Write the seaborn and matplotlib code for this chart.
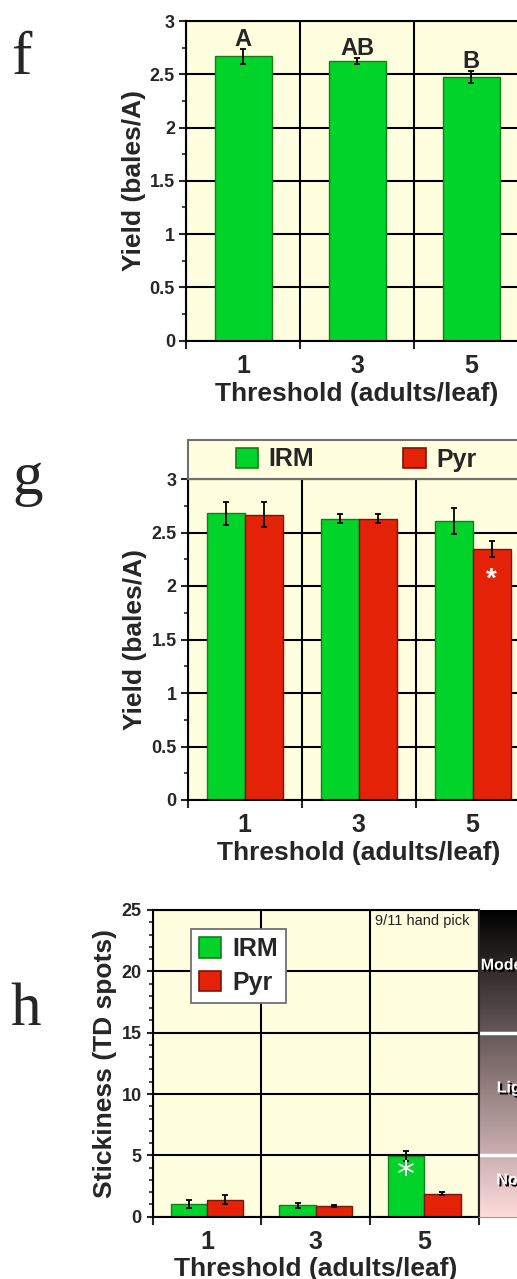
import numpy as np
import pandas as pd
import matplotlib
matplotlib.use("Agg")
import matplotlib.pyplot as plt
import matplotlib.patheffects as pe
from matplotlib import font_manager
from matplotlib.patches import Rectangle
from matplotlib.colors import LinearSegmentedColormap
from matplotlib.ticker import MultipleLocator, FixedLocator, FuncFormatter
import seaborn as sns

# data
thresholds = ["1", "3", "5"]
treatments = ["IRM", "Pyr"]

f_yield = [2.67, 2.627, 2.477]
f_err = [0.07, 0.03, 0.055]
f_letters = ["A", "AB", "B"]

g_irm = [2.68, 2.63, 2.61]
g_irm_err = [0.107, 0.04, 0.12]
g_pyr = [2.668, 2.63, 2.35]
g_pyr_err = [0.115, 0.04, 0.075]

h_irm = [1.01, 0.93, 4.95]
h_irm_err = [0.33, 0.22, 0.38]
h_pyr = [1.39, 0.85, 1.88]
h_pyr_err = [0.37, 0.10, 0.11]

sticky_bounds = [0, 5, 15, 25]
sticky_labels = ["None", "Light", "Moderate"]

GREEN = "#00D42A"
RED = "#E42208"
GREEN_EDGE = "#1B7A1B"
RED_EDGE = "#7A1508"
CREAM = "#FFFFE0"
palette = {"IRM": GREEN, "Pyr": RED}
edges = [GREEN_EDGE, RED_EDGE]

sns.set_style("ticks")
plt.rcParams["font.family"] = ["Liberation Sans", "DejaVu Sans"]
plt.rcParams["font.weight"] = "bold"
plt.rcParams["axes.labelweight"] = "bold"

W, H = 517, 1279
fig = plt.figure(figsize=(W / 100, H / 100), dpi=100)


def add_ax(l, t, r, b):
    return fig.add_axes([l / W, 1 - b / H, (r - l) / W, (b - t) / H])


def style(ax, ymax, major, minor, ylab_x, xlab_y, ylabel, tlen, tpad):
    ax.set_facecolor(CREAM)
    ax.set_xlim(-0.5, 2.5)
    ax.set_ylim(0, ymax)
    ax.yaxis.set_major_locator(MultipleLocator(major))
    ax.yaxis.set_minor_locator(MultipleLocator(minor))
    ax.yaxis.set_major_formatter(FuncFormatter(lambda v, p: f"{v:g}"))
    ax.xaxis.set_minor_locator(FixedLocator([-0.5, 0.5, 1.5, 2.5]))
    ax.tick_params(axis="x", which="major", length=0, pad=9.5, labelsize=18)
    ax.tick_params(axis="x", which="minor", direction="out", length=5.5, width=1.5)
    ax.tick_params(axis="y", which="major", direction="out", length=tlen, width=1.5,
                   labelsize=13, pad=tpad)
    ax.tick_params(axis="y", which="minor", direction="out", length=3, width=1.2)
    ax.grid(False)
    ax.yaxis.grid(True, which="major", color="black", lw=1.5)
    ax.xaxis.grid(True, which="minor", color="black", lw=1.5)
    ax.set_axisbelow(True)
    for s in ax.spines.values():
        s.set_linewidth(1.5)
        s.set_color("black")
    ax.set_xlabel("Threshold (adults/leaf)", fontsize=19)
    ax.set_ylabel(ylabel, fontsize=19)
    ax.xaxis.set_label_coords(0.5, xlab_y)
    ax.yaxis.set_label_coords(ylab_x, 0.5)


def add_errorbars(ax, err_lists):
    for cont, errs, ec in zip(list(ax.containers), err_lists, edges):
        for p in cont:
            p.set_edgecolor(ec)
            p.set_linewidth(1.0)
        xs = [p.get_x() + p.get_width() / 2 for p in cont]
        ax.errorbar(xs, cont.datavalues, yerr=errs, fmt="none", ecolor="black",
                    elinewidth=1.3, capsize=2.5, capthick=1.3, zorder=3)


def long_df(irm, pyr):
    return pd.DataFrame({
        "threshold": thresholds * 2,
        "value": list(irm) + list(pyr),
        "treatment": ["IRM"] * 3 + ["Pyr"] * 3,
    })


# ---- panel f
ax_f = add_ax(186, 21, 528, 340.7)
df_f = pd.DataFrame({"threshold": thresholds, "value": f_yield})
sns.barplot(data=df_f, x="threshold", y="value", color=GREEN, saturation=1,
            width=0.5, errorbar=None, ax=ax_f)
add_errorbars(ax_f, [f_err])
style(ax_f, 3, 0.5, 0.25, -0.118, -0.128, "Yield (bales/A)", 5, 3)
for i, (m, e, lab) in enumerate(zip(f_yield, f_err, f_letters)):
    ax_f.text(i, m + e + 0.025, lab, ha="center", va="baseline", fontsize=17)

# ---- panel g
ax_g = add_ax(187.7, 479, 529.7, 800)
sns.barplot(data=long_df(g_irm, g_pyr), x="threshold", y="value", hue="treatment",
            palette=palette, saturation=1, width=0.667, errorbar=None, ax=ax_g)
add_errorbars(ax_g, [g_irm_err, g_pyr_err])
style(ax_g, 3, 0.5, 0.25, -0.12, -0.127, "Yield (bales/A)", 5, 3)
ax_g.spines["top"].set_color("#707070")
band_h = 39 / 321
ax_g.add_patch(Rectangle((0, 1), 1, band_h, transform=ax_g.transAxes, clip_on=False,
                         facecolor=CREAM, edgecolor="#707070", lw=1.5, zorder=0))
old = ax_g.get_legend()
handles = old.legend_handles
labels = [t.get_text() for t in old.get_texts()]
old.remove()
for hd, ec in zip(handles, edges):
    hd.set_edgecolor(ec)
    hd.set_linewidth(1.2)
ax_g.legend(handles, labels, loc="center left", bbox_to_anchor=(48 / 342, 1 + band_h / 2),
            frameon=False, ncol=2, fontsize=18, handlelength=0.9, handleheight=0.9,
            handletextpad=0.42, columnspacing=3.55, borderpad=0, borderaxespad=0)
pyr5 = ax_g.containers[1][2]
ax_g.annotate("*", xy=(pyr5.get_x() + pyr5.get_width() / 2, 2.11), xytext=(0, -4),
              textcoords="offset points", ha="center", va="center", color="white",
              fontsize=20)

# ---- panel h
ax_h = add_ax(152.7, 910, 478.7, 1216.7)
sns.barplot(data=long_df(h_irm, h_pyr), x="threshold", y="value", hue="treatment",
            palette=palette, saturation=1, width=0.667, errorbar=None, ax=ax_h)
add_errorbars(ax_h, [h_irm_err, h_pyr_err])
style(ax_h, 25, 5, 1, -0.1086, -0.132, "Stickiness (TD spots)", 4.5, 3.5)
old = ax_h.get_legend()
handles = old.legend_handles
labels = [t.get_text() for t in old.get_texts()]
old.remove()
for hd, ec in zip(handles, edges):
    hd.set_edgecolor(ec)
    hd.set_linewidth(1.2)
leg = ax_h.legend(handles, labels, loc="upper left",
                  bbox_to_anchor=((191 - 152.7) / 326, 1 - 19.3 / 306.7), borderaxespad=0,
                  fontsize=18, frameon=True, fancybox=False, edgecolor="#707070",
                  facecolor="white", framealpha=1, handlelength=0.88, handleheight=0.88,
                  handletextpad=0.45, borderpad=0.32, labelspacing=0.38)
leg.get_frame().set_linewidth(1.3)
irm5 = ax_h.containers[0][2]
ax_h.annotate("*", xy=(irm5.get_x() + irm5.get_width() / 2, 3.86), xytext=(0, -5),
              textcoords="offset points", ha="center", va="center", color="white",
              fontsize=26, fontweight="normal", family="DejaVu Sans")
ax_h.text((375 - 152.7) / 326, 1 - 4 / 306.7, "9/11 hand pick", transform=ax_h.transAxes,
          ha="left", va="top", fontsize=10.5, fontweight="normal", color="#222222")

# ---- stickiness scale next to h
ax_s = add_ax(478.7, 910, 554, 1216.7)
cmap = LinearSegmentedColormap.from_list("sticky", ["#FFDCDC", "#000000"])
ax_s.imshow(np.linspace(0, 1, 256).reshape(-1, 1), aspect="auto", cmap=cmap,
            origin="lower", extent=[0, 1, 0, 25])
ax_s.set_xlim(0, 1)
ax_s.set_ylim(0, 25)
ax_s.set_xticks([])
ax_s.set_yticks([])
for side in ["top", "right"]:
    ax_s.spines[side].set_visible(False)
ax_s.spines["left"].set_linewidth(1.5)
ax_s.spines["bottom"].set_color("#999999")
ax_s.spines["bottom"].set_linewidth(0.8)
for b in sticky_bounds[1:-1]:
    ax_s.axhline(b, color="white", lw=2.5)
names = {f.name for f in font_manager.fontManager.ttflist}
if "Liberation Sans Narrow" in names:
    band_font, band_size = "Liberation Sans Narrow", 13.5
else:
    band_font, band_size = "Liberation Sans", 11.5
shadow = [pe.SimplePatchShadow(offset=(1.5, -1.5), shadow_rgbFace="black", alpha=1),
          pe.Normal()]
for lab, lo, hi in zip(sticky_labels, sticky_bounds[:-1], sticky_bounds[1:]):
    ax_s.text(0.5, (lo + hi) / 2 + 0.5, lab, ha="center", va="center", color="white",
              fontsize=band_size, family=band_font, path_effects=shadow)

# panel letters
for lab, x, y in [("f", 11, 74), ("g", 12, 494), ("h", 10, 1025)]:
    fig.text(x / W, 1 - y / H, lab, family="Liberation Serif", fontsize=44,
             fontweight="normal", ha="left", va="baseline")

fig.savefig("out.png", dpi=100)
